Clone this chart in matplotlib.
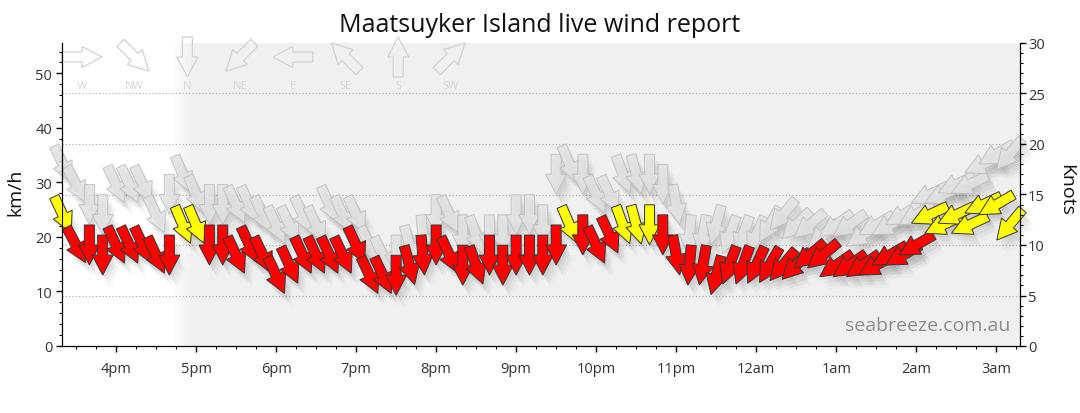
import matplotlib
matplotlib.use('Agg')
import matplotlib.pyplot as plt
import matplotlib.transforms as mtransforms
from matplotlib.patches import Polygon
from matplotlib.colors import LinearSegmentedColormap
from matplotlib.ticker import MultipleLocator
import numpy as np

plt.rcParams['font.family'] = ['Open Sans', 'DejaVu Sans']

KMH_PER_KT = 1.852

# observation times (10 min steps, afternoon -> early morning)
times = ['15:20', '15:30', '15:40', '15:50', '16:00', '16:10', '16:20', '16:30',
         '16:40', '16:50', '17:00', '17:10', '17:20', '17:30', '17:40', '17:50',
         '18:00', '18:10', '18:20', '18:30', '18:40', '18:50', '19:00', '19:10',
         '19:20', '19:30', '19:40', '19:50', '20:00', '20:10', '20:20', '20:30',
         '20:40', '20:50', '21:00', '21:10', '21:20', '21:30', '21:40', '21:50',
         '22:00', '22:10', '22:20', '22:30', '22:40', '22:50', '23:00', '23:10',
         '23:20', '23:30', '23:40', '23:50', '00:00', '00:10', '00:20', '00:30',
         '00:40', '00:50', '01:00', '01:10', '01:20', '01:30', '01:40', '01:50',
         '02:00', '02:10', '02:20', '02:30', '02:40', '02:50', '03:00', '03:10']

# mean wind (knots)
speed_kt = [13, 10, 10, 9, 10, 10, 10, 9, 9, 12, 12, 10, 10, 9, 10, 9,
            7, 8, 9, 9, 9, 9, 10, 7, 7, 7, 8, 9, 10, 9, 8, 8,
            9, 8, 9, 9, 9, 10, 12, 11, 10, 11, 12, 12, 12, 11, 9, 8,
            8, 7, 8, 8, 8, 8, 8, 8, 9, 9, 8, 8, 8, 8, 9, 9,
            10, 13, 12, 13, 12, 14, 14, 12]

# gusts (knots)
gust_kt = [18, 16, 14, 13, 16, 16, 16, 13, 15, 17, 15, 14, 14, 14, 14, 13,
           12, 12, 13, 12, 14, 13, 13, 10, 9, 9, 10, 11, 13, 13, 11, 11,
           11, 11, 13, 13, 12, 17, 18, 17, 15, 15, 17, 17, 17, 16, 14, 11,
           11, 12, 11, 11, 11, 12, 13, 12, 12, 11, 12, 12, 11, 12, 12, 13,
           13, 15, 15, 16, 16, 18, 19, 19]

# wind direction (degrees, blowing from)
dir_deg = [335, 332, 0, 0, 335, 335, 335, 335, 0, 337, 337, 0, 0, 335, 335, 335,
           335, 335, 335, 335, 335, 335, 335, 335, 335, 0, 345, 355, 0, 335, 0, 340,
           0, 0, 0, 0, 0, 0, 337, 0, 335, 335, 340, 345, 0, 0, 350, 5,
           10, 15, 20, 20, 25, 30, 40, 45, 50, 50, 55, 55, 55, 60, 60, 60,
           60, 65, 65, 65, 65, 65, 60, 40]

hour_ticks = [16, 17, 18, 19, 20, 21, 22, 23, 24, 25, 26, 27]
hour_labels = ['4pm', '5pm', '6pm', '7pm', '8pm', '9pm', '10pm', '11pm',
               '12am', '1am', '2am', '3am']

compass_names = ['W', 'NW', 'N', 'NE', 'E', 'SE', 'S', 'SW']
compass_deg = [270, 315, 0, 45, 90, 135, 180, 225]

# arrow outline in pixels, pointing up, centred on origin
ARROW = [(-5, -20), (5, -20), (5, 0), (10.5, 0), (0, 20), (-10.5, 0), (-5, 0)]


def to_hours(s):
    h, m = map(int, s.split(':'))
    if h < 12:
        h += 24
    return h + m / 60.0


def draw_arrow(ax, place, frm, face, edge, z, alpha=1.0, shadow=True, lw=0.7):
    rot = mtransforms.Affine2D().rotate_deg(-(frm + 180))
    if shadow:
        for dx, dy, a in [(2, -4, 0.035), (4, -7, 0.04), (6, -10, 0.035), (8, -13, 0.02)]:
            tr = rot + mtransforms.Affine2D().translate(dx, dy) + place
            ax.add_patch(Polygon(ARROW, closed=True, transform=tr, fc='k', ec='none',
                                 alpha=a, zorder=z - 0.5, clip_on=False))
    ax.add_patch(Polygon(ARROW, closed=True, transform=rot + place, fc=face, ec=edge,
                         lw=lw, alpha=alpha, zorder=z, clip_on=False))


fig = plt.figure(figsize=(10.8, 4.14), dpi=100)
ax = fig.add_axes([62 / 1080, 1 - 347 / 414, 957.5 / 1080, 303 / 414])
ax2 = ax.twinx()

x0, x1 = 15.325, 27.29
ymax_kt = 30

# night shading with a soft edge
ax.axvspan(16.94, x1, color='#f0f0f0', lw=0, zorder=0)
grad = LinearSegmentedColormap.from_list('g', ['#ffffff', '#f0f0f0'])
ax.imshow(np.linspace(0, 1, 64)[None, :], cmap=grad, aspect='auto',
          extent=[16.7, 16.95, 0, ymax_kt * KMH_PER_KT], zorder=0)
ax.set_xlim(x0, x1)
ax.set_ylim(0, ymax_kt * KMH_PER_KT)
ax2.set_ylim(0, ymax_kt)

for k in range(5, ymax_kt, 5):
    ax.axhline(k * KMH_PER_KT, color='#a8a8a8', ls=(0, (1, 2)), lw=0.8, zorder=1)

hours = [to_hours(t) for t in times]

# gust arrows underneath
for h, g, d in zip(hours, gust_kt, dir_deg):
    place = mtransforms.ScaledTranslation(h, g * KMH_PER_KT, ax.transData)
    draw_arrow(ax, place, d, '#e2e2e2', '#bcbcbc', z=2, alpha=0.85)

# mean wind arrows
for h, s, d in zip(hours, speed_kt, dir_deg):
    place = mtransforms.ScaledTranslation(h, s * KMH_PER_KT, ax.transData)
    face = '#ffff00' if s >= 12 else '#ff0000'
    draw_arrow(ax, place, d, face, '#333333', z=4)

# compass key along the top
top_left = mtransforms.ScaledTranslation(0, 1, ax.transAxes)
for k, (name, d) in enumerate(zip(compass_names, compass_deg)):
    px = 20 + 52.7 * k
    place = mtransforms.Affine2D().translate(px, -14) + top_left
    draw_arrow(ax, place, d, 'none', '#d2d2d2', z=1.5, shadow=False, lw=0.9)
    ax.text(px / 957.5, (347 - 87) / 303, name, transform=ax.transAxes,
            ha='center', va='center', fontsize=8, color='#d6d6d6', zorder=1.5)

ax.set_xticks(hour_ticks)
ax.set_xticklabels(hour_labels)
ax.xaxis.set_minor_locator(MultipleLocator(0.25))
ax.yaxis.set_major_locator(MultipleLocator(10))
ax.yaxis.set_minor_locator(MultipleLocator(2))
ax2.yaxis.set_major_locator(MultipleLocator(5))
ax2.yaxis.set_minor_locator(MultipleLocator(1))

for a in (ax, ax2):
    a.spines['top'].set_visible(False)
    a.tick_params(which='major', length=4, width=1, colors='#000000',
                  labelcolor='#333333', labelsize=10.5)
    a.tick_params(which='minor', length=2.5, width=0.8, colors='#000000')
ax.tick_params(axis='x', which='major', pad=7)
ax.tick_params(axis='y', which='major', pad=3)
ax2.tick_params(axis='y', which='major', pad=2)

fig.text(0.5, 1 - 32 / 414, 'Maatsuyker Island live wind report', ha='center',
         va='baseline', fontsize=18, color='#111111')
fig.text(15 / 1080, 1 - 192 / 414, 'km/h', rotation=90, ha='center', va='center',
         fontsize=14, color='#111111')
fig.text(1066 / 1080, 1 - 190 / 414, 'Knots', rotation=270, ha='center', va='center',
         fontsize=14, color='#111111')
ax.text(0.99, 0.04, 'seabreeze.com.au', transform=ax.transAxes, ha='right',
        va='bottom', fontsize=14, color='#8c8c8c', zorder=5)

fig.savefig('out.png', dpi=100)
plt.close(fig)
